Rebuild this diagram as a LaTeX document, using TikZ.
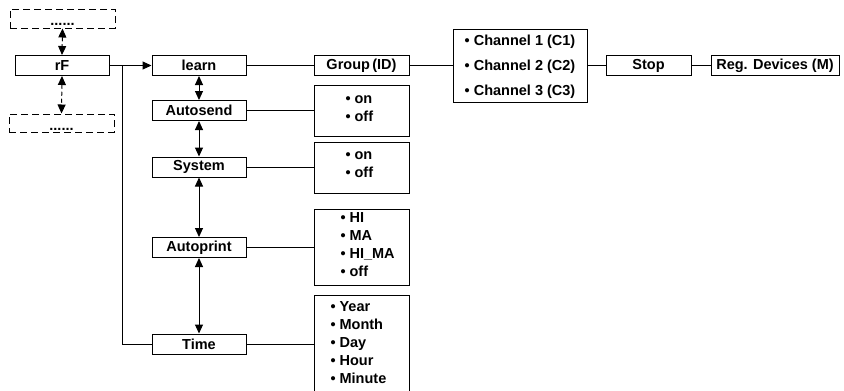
\documentclass[tikz,border=0pt]{standalone}
\usepackage{fontspec}
\setmainfont{Liberation Sans}
\usetikzlibrary{arrows.meta}
\begin{document}
\begin{tikzpicture}[x=1pt,y=-1pt,
  font=\fontsize{14.5}{18}\selectfont\bfseries,
  line width=1pt,
  box/.style={draw, line width=1pt, minimum width=94pt, minimum height=20pt, inner sep=0pt},
  dbox/.style={draw, line width=1pt, dash pattern=on 7pt off 4pt, inner sep=0pt},
  obox/.style={draw, line width=1pt, minimum width=95pt, inner sep=0pt},
  otext/.style={anchor=west, align=left, inner sep=0pt},
  tip/.tip={Triangle[length=9pt,width=8pt]},
  dbl/.style={tip-tip, line width=1pt},
  arr/.style={-tip, line width=1pt}]
\useasboundingbox (0,0) rectangle (844,391);
\clip (0,0) rectangle (844,391);
% left column
\node[dbox, minimum width=105pt, minimum height=19pt] (top) at (62.5,18.5) {};
\node[anchor=base, inner sep=0pt] (topdots) at (62.5,25) {......};
\node[box] (rF) at (62,65.5) {rF};
\node[dbox, minimum width=105pt, minimum height=18pt] (bot) at (61.5,123) {};
\node[anchor=base, inner sep=0pt] (botdots) at (61.5,130) {......};
% menu column
\node[box] (learn) at (199,65.5) {learn};
\node[box] (autosend) at (199,110.5) {Autosend};
\node[box] (system) at (199,167) {System};
\node[box] (autoprint) at (199,247.5) {Autoprint};
\node[box] (time) at (199,344) {Time};
% top row
\node[box, minimum width=95pt] (group) at (361.5,65.5) {Group\,(ID)};
\node[draw, line width=1pt, minimum width=134pt, minimum height=73pt, inner sep=0pt] (chbox) at (520,65.5) {};
\node[align=left, inner sep=0pt, font=\fontsize{14.5}{25}\selectfont\bfseries] (chtext) at (520,67) {• Channel 1 (C1)\\• Channel 2 (C2)\\• Channel 3 (C3)};
\node[box, minimum width=85pt] (stop) at (648.5,65.5) {Stop};
\node[box, minimum width=128pt] (reg) at (775,65.5) {Reg. Devices (M)};
% option boxes
\node[obox, minimum height=51pt] (optA) at (361.5,110.5) {};
\node[otext] (optAt) at (345,109) {• on\\• off};
\node[obox, minimum height=51pt] (optS) at (361.5,167.5) {};
\node[otext] (optSt) at (345,165) {• on\\• off};
\node[obox, minimum height=76pt] (optP) at (361.5,247) {};
\node[otext] (optPt) at (340,244.5) {• HI\\• MA\\• HI\_MA\\• off};
\node[obox, minimum height=97pt] (optT) at (361.5,343.5) {};
\node[otext] (optTt) at (330,343) {• Year\\• Month\\• Day\\• Hour\\• Minute};
% connectors
\draw[dbl, dash pattern=on 4pt off 3pt] (top.south) -- (rF.north);
\draw[dbl, dash pattern=on 4pt off 3pt] (rF.south) -- (bot.north);
\coordinate (j) at (122,65.5);
\draw (rF.east) -- (j);
\draw[arr] (j) -- (learn.west);
\draw (j) |- (time.west);
\draw[dbl] (learn.south) -- (autosend.north);
\draw[dbl] (autosend.south) -- (system.north);
\draw[dbl] (system.south) -- (autoprint.north);
\draw[dbl] (autoprint.south) -- (time.north);
\draw (learn.east) -- (group.west);
\draw (group.east) -- (chbox.west |- group.east);
\draw (chbox.east |- stop.west) -- (stop.west);
\draw (stop.east) -- (reg.west);
\draw (autosend.east) -- (optA.west |- autosend.east);
\draw (system.east) -- (optS.west |- system.east);
\draw (autoprint.east) -- (optP.west |- autoprint.east);
\draw (time.east) -- (optT.west |- time.east);
\end{tikzpicture}
\end{document}
